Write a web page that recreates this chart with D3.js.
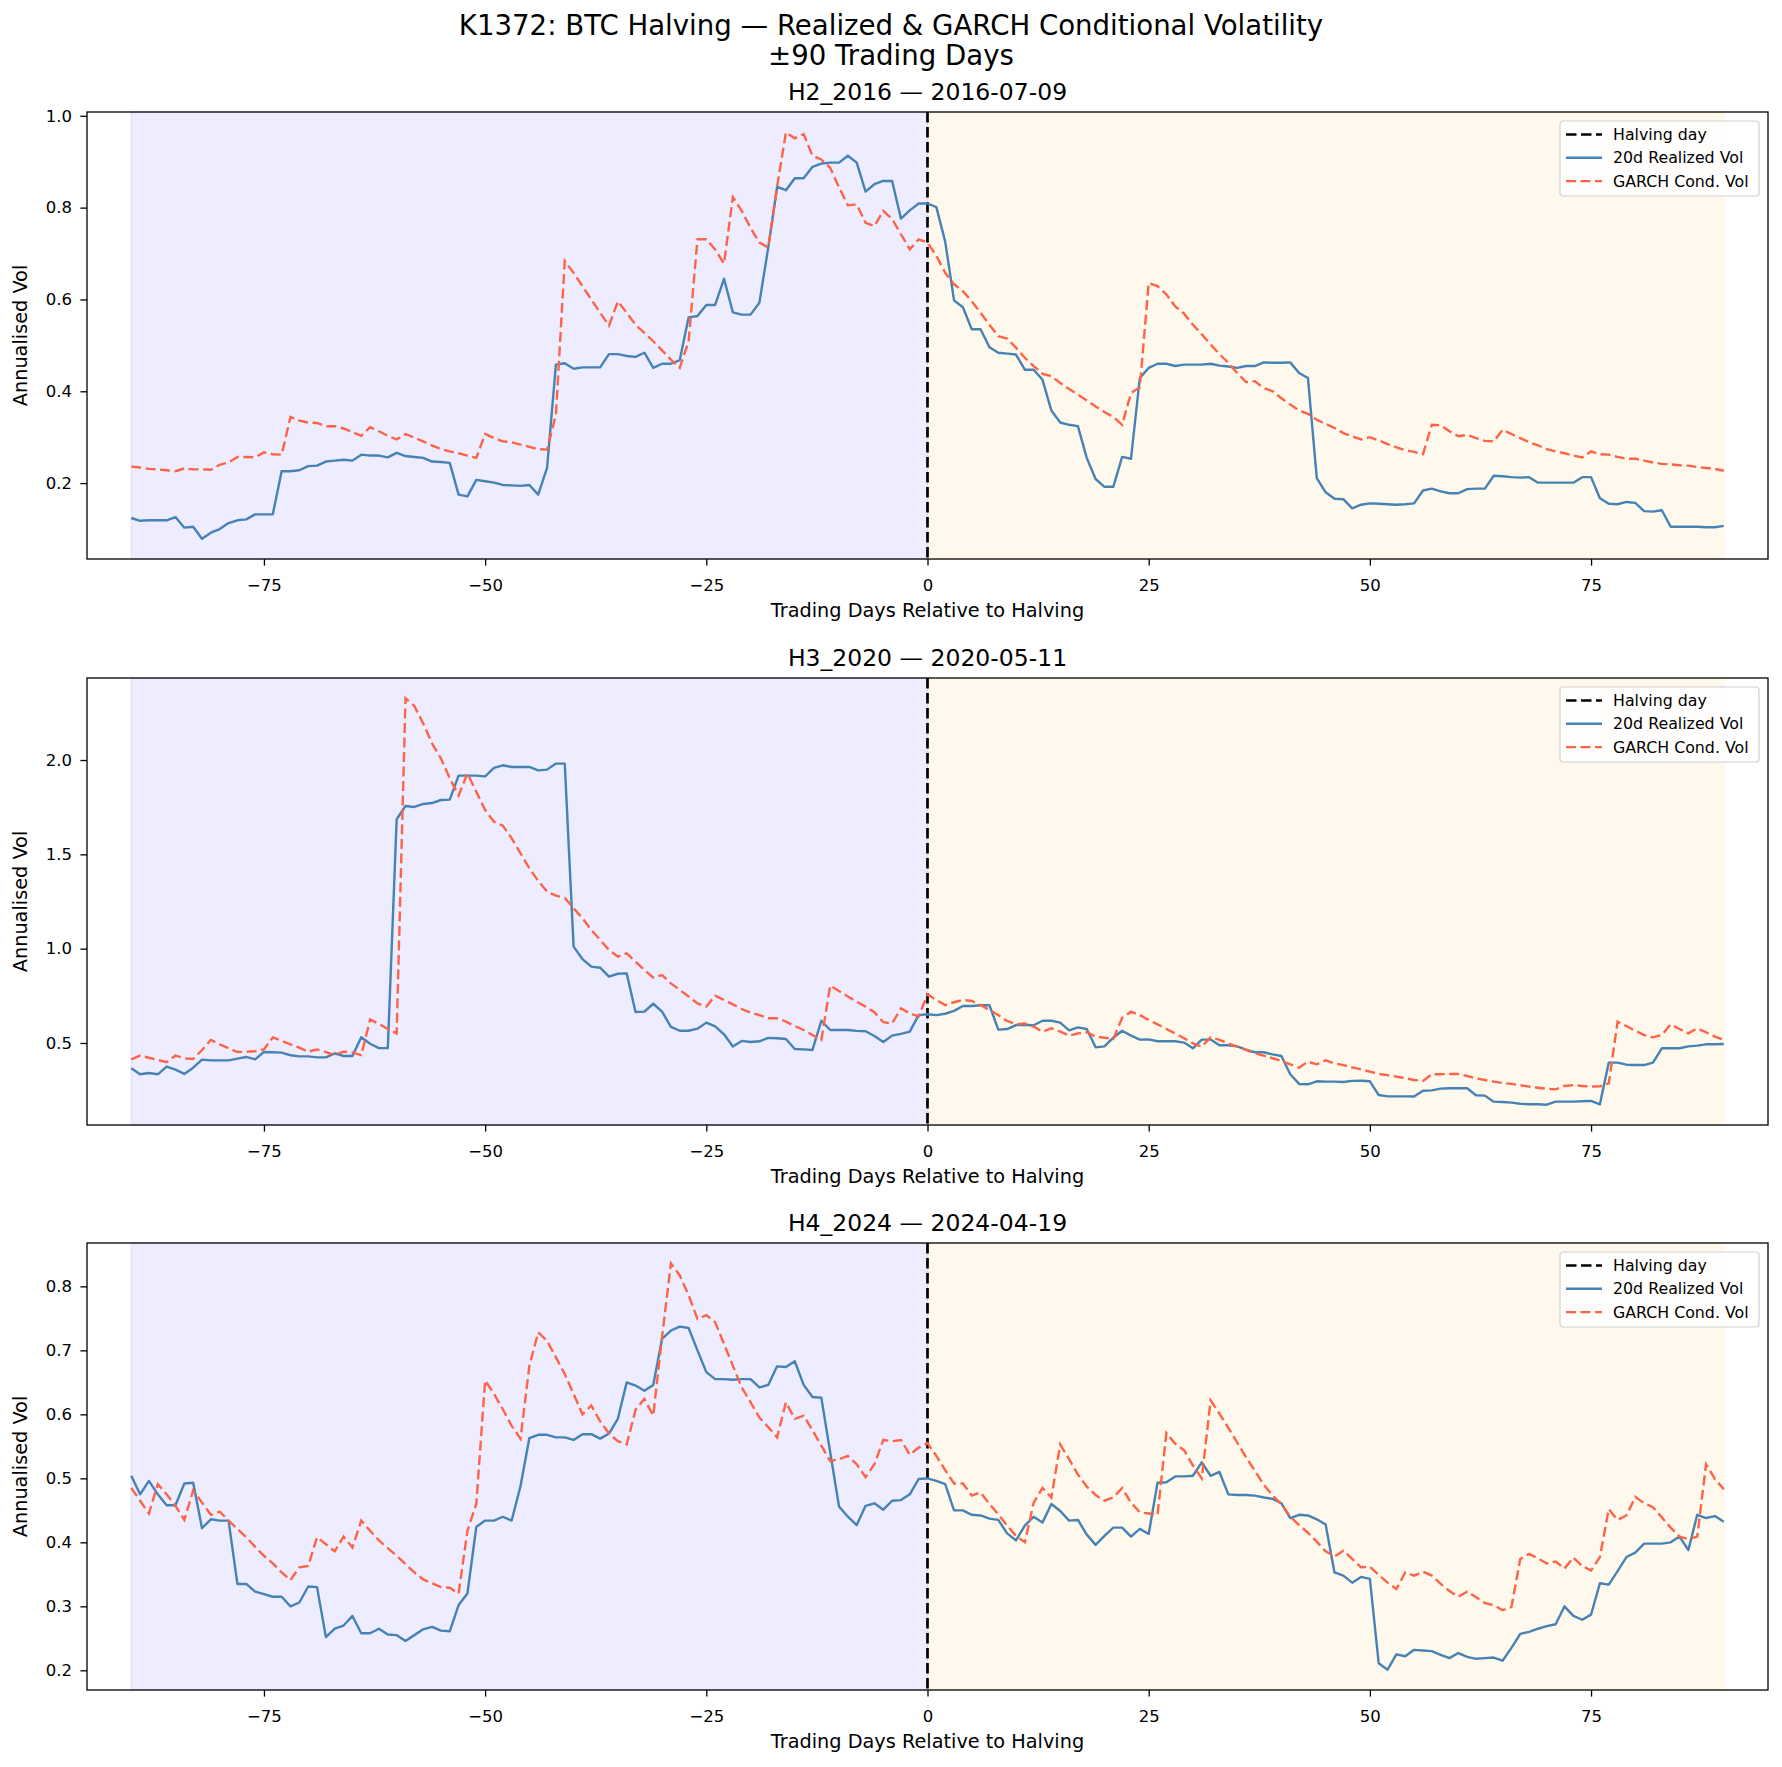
<!DOCTYPE html>
<html>
<head>
<meta charset="utf-8">
<title>K1372 BTC Halving Volatility</title>
<script src="https://d3js.org/d3.v7.min.js"></script>
<style>
  body { margin: 0; background: #fff; }
  svg { display: block; font-family: "DejaVu Sans", "Noto Sans", sans-serif; }
</style>
</head>
<body>
<div id="chart"></div>
<script>
// trading days relative to the halving, -90 .. +90
var days = d3.range(-90, 91);

var halvingNames = ['H2_2016', 'H3_2020', 'H4_2024'];
var halvingDates = ['2016-07-09', '2020-05-11', '2024-04-19'];

// 20d realized vol / GARCH conditional vol, one value per day
var h2Realized = [
  0.124,0.118,0.119,0.119,0.119,0.126,0.103,0.105,0.079,0.092,
  0.100,0.113,0.119,0.121,0.132,0.132,0.132,0.226,0.226,0.228,
  0.237,0.238,0.247,0.249,0.251,0.249,0.262,0.260,0.260,0.256,
  0.266,0.259,0.257,0.255,0.247,0.246,0.244,0.175,0.171,0.207,
  0.204,0.201,0.196,0.195,0.194,0.196,0.175,0.233,0.458,0.461,
  0.449,0.452,0.452,0.452,0.481,0.481,0.477,0.475,0.484,0.451,
  0.460,0.460,0.468,0.561,0.564,0.588,0.588,0.645,0.572,0.567,
  0.567,0.593,0.713,0.845,0.838,0.864,0.864,0.889,0.896,0.898,
  0.898,0.913,0.898,0.835,0.851,0.858,0.858,0.776,0.794,0.809,
  0.809,0.801,0.726,0.598,0.583,0.535,0.535,0.496,0.484,0.482,
  0.480,0.447,0.447,0.425,0.358,0.332,0.327,0.324,0.255,0.209,
  0.192,0.192,0.257,0.253,0.429,0.451,0.460,0.460,0.455,0.458,
  0.458,0.458,0.460,0.456,0.454,0.451,0.455,0.455,0.463,0.462,
  0.462,0.463,0.440,0.429,0.211,0.180,0.166,0.165,0.145,0.153,
  0.156,0.155,0.154,0.153,0.154,0.156,0.184,0.188,0.182,0.178,
  0.178,0.187,0.188,0.188,0.216,0.215,0.213,0.212,0.213,0.201,
  0.201,0.201,0.201,0.201,0.213,0.213,0.167,0.155,0.154,0.159,
  0.157,0.139,0.138,0.141,0.105,0.105,0.105,0.105,0.104,0.104,
  0.107
];
var h2Garch = [
  0.236,0.234,0.231,0.230,0.228,0.226,0.232,0.230,0.230,0.229,
  0.240,0.245,0.257,0.257,0.256,0.267,0.263,0.262,0.344,0.336,
  0.332,0.331,0.324,0.324,0.319,0.311,0.303,0.322,0.313,0.303,
  0.295,0.307,0.299,0.291,0.282,0.274,0.269,0.265,0.260,0.255,
  0.307,0.298,0.291,0.289,0.284,0.279,0.274,0.273,0.349,0.684,
  0.658,0.629,0.600,0.571,0.543,0.596,0.571,0.545,0.527,0.509,
  0.489,0.469,0.451,0.509,0.731,0.731,0.709,0.678,0.823,0.793,
  0.756,0.724,0.713,0.845,0.964,0.951,0.960,0.913,0.905,0.887,
  0.844,0.805,0.807,0.767,0.760,0.793,0.775,0.742,0.709,0.731,
  0.724,0.695,0.658,0.633,0.618,0.596,0.571,0.545,0.520,0.515,
  0.495,0.473,0.455,0.438,0.433,0.418,0.405,0.393,0.380,0.367,
  0.355,0.344,0.327,0.396,0.409,0.636,0.629,0.611,0.585,0.569,
  0.545,0.524,0.502,0.481,0.462,0.440,0.420,0.422,0.407,0.400,
  0.385,0.371,0.358,0.351,0.338,0.329,0.320,0.309,0.302,0.295,
  0.300,0.293,0.285,0.278,0.272,0.268,0.263,0.327,0.326,0.313,
  0.302,0.305,0.298,0.292,0.291,0.316,0.307,0.298,0.289,0.282,
  0.274,0.269,0.265,0.260,0.256,0.269,0.263,0.262,0.257,0.253,
  0.253,0.249,0.245,0.242,0.241,0.239,0.238,0.235,0.233,0.231,
  0.227
];
var h3Realized = [
  0.366,0.334,0.341,0.334,0.375,0.359,0.336,0.369,0.412,0.408,
  0.408,0.408,0.417,0.426,0.413,0.452,0.451,0.449,0.435,0.429,
  0.429,0.424,0.424,0.445,0.431,0.431,0.530,0.496,0.473,0.473,
  1.686,1.756,1.751,1.767,1.772,1.788,1.790,1.917,1.917,1.917,
  1.913,1.958,1.972,1.963,1.963,1.963,1.945,1.949,1.981,1.981,
  1.011,0.945,0.905,0.899,0.852,0.867,0.869,0.664,0.666,0.708,
  0.666,0.585,0.565,0.565,0.576,0.608,0.588,0.546,0.481,0.511,
  0.505,0.509,0.527,0.525,0.521,0.468,0.466,0.463,0.618,0.569,
  0.569,0.569,0.564,0.562,0.537,0.505,0.539,0.548,0.560,0.648,
  0.652,0.648,0.655,0.670,0.696,0.696,0.700,0.700,0.571,0.574,
  0.595,0.595,0.594,0.618,0.618,0.608,0.567,0.583,0.574,0.477,
  0.482,0.528,0.565,0.539,0.518,0.519,0.509,0.509,0.509,0.502,
  0.472,0.518,0.518,0.488,0.488,0.482,0.465,0.451,0.451,0.440,
  0.431,0.334,0.283,0.281,0.297,0.295,0.295,0.293,0.299,0.300,
  0.297,0.224,0.217,0.217,0.217,0.216,0.247,0.249,0.258,0.260,
  0.260,0.260,0.223,0.221,0.189,0.187,0.184,0.178,0.175,0.175,
  0.173,0.189,0.189,0.189,0.191,0.193,0.175,0.396,0.396,0.385,
  0.383,0.383,0.396,0.472,0.472,0.472,0.482,0.486,0.493,0.493,
  0.495
];
var h3Garch = [
  0.413,0.433,0.422,0.410,0.398,0.433,0.419,0.415,0.463,0.516,
  0.493,0.472,0.452,0.454,0.456,0.466,0.530,0.512,0.493,0.475,
  0.454,0.466,0.452,0.436,0.454,0.449,0.436,0.624,0.601,0.574,
  0.551,2.327,2.286,2.194,2.088,2.009,1.903,1.811,1.929,1.832,
  1.735,1.673,1.652,1.585,1.505,1.426,1.359,1.302,1.281,1.270,
  1.214,1.161,1.099,1.046,0.993,0.958,0.975,0.931,0.887,0.846,
  0.860,0.816,0.781,0.746,0.710,0.693,0.751,0.728,0.705,0.680,
  0.661,0.648,0.631,0.631,0.613,0.590,0.569,0.542,0.516,0.804,
  0.776,0.746,0.719,0.693,0.663,0.610,0.604,0.684,0.657,0.640,
  0.758,0.728,0.701,0.716,0.728,0.723,0.701,0.675,0.648,0.617,
  0.599,0.604,0.587,0.560,0.578,0.560,0.539,0.551,0.557,0.534,
  0.528,0.521,0.634,0.666,0.648,0.622,0.599,0.574,0.551,0.525,
  0.498,0.481,0.530,0.516,0.498,0.481,0.463,0.445,0.433,0.419,
  0.405,0.387,0.369,0.401,0.387,0.408,0.392,0.383,0.371,0.360,
  0.348,0.336,0.330,0.322,0.313,0.304,0.299,0.334,0.334,0.336,
  0.336,0.325,0.313,0.304,0.295,0.288,0.283,0.276,0.269,0.263,
  0.258,0.254,0.272,0.277,0.272,0.269,0.270,0.286,0.613,0.590,
  0.565,0.542,0.530,0.542,0.599,0.574,0.551,0.578,0.557,0.534,
  0.516
];
var h4Realized = [
  0.504,0.475,0.496,0.475,0.458,0.458,0.492,0.493,0.422,0.436,
  0.434,0.434,0.335,0.335,0.323,0.319,0.315,0.315,0.300,0.306,
  0.331,0.330,0.252,0.265,0.270,0.285,0.258,0.258,0.265,0.256,
  0.255,0.246,0.255,0.264,0.268,0.262,0.261,0.302,0.320,0.424,
  0.434,0.434,0.440,0.434,0.488,0.563,0.568,0.568,0.564,0.564,
  0.560,0.569,0.569,0.562,0.570,0.593,0.650,0.645,0.637,0.646,
  0.718,0.731,0.737,0.735,0.700,0.666,0.655,0.655,0.654,0.655,
  0.655,0.642,0.646,0.675,0.674,0.683,0.646,0.627,0.626,0.541,
  0.456,0.440,0.427,0.457,0.461,0.451,0.465,0.466,0.475,0.499,
  0.500,0.496,0.491,0.450,0.450,0.443,0.442,0.437,0.435,0.414,
  0.403,0.426,0.440,0.431,0.460,0.449,0.434,0.435,0.412,0.396,
  0.410,0.423,0.423,0.409,0.421,0.413,0.493,0.494,0.503,0.503,
  0.504,0.525,0.504,0.510,0.475,0.474,0.474,0.473,0.470,0.468,
  0.461,0.438,0.443,0.442,0.436,0.428,0.353,0.348,0.337,0.346,
  0.343,0.211,0.201,0.225,0.222,0.232,0.231,0.230,0.224,0.219,
  0.227,0.221,0.218,0.219,0.220,0.215,0.235,0.257,0.260,0.265,
  0.269,0.272,0.300,0.285,0.279,0.287,0.336,0.334,0.355,0.377,
  0.384,0.398,0.398,0.398,0.400,0.409,0.388,0.443,0.438,0.441,
  0.432
];
var h4Garch = [
  0.485,0.465,0.445,0.491,0.475,0.457,0.435,0.481,0.462,0.443,
  0.448,0.434,0.421,0.408,0.393,0.379,0.367,0.353,0.341,0.361,
  0.363,0.408,0.397,0.386,0.409,0.392,0.434,0.418,0.403,0.391,
  0.379,0.366,0.353,0.342,0.336,0.330,0.329,0.320,0.418,0.460,
  0.653,0.632,0.608,0.582,0.562,0.676,0.728,0.715,0.689,0.663,
  0.632,0.600,0.614,0.589,0.570,0.558,0.553,0.607,0.624,0.598,
  0.721,0.836,0.817,0.786,0.749,0.755,0.744,0.710,0.676,0.642,
  0.619,0.595,0.580,0.564,0.619,0.593,0.598,0.575,0.551,0.527,
  0.530,0.535,0.522,0.502,0.522,0.560,0.558,0.560,0.537,0.548,
  0.555,0.535,0.513,0.492,0.492,0.473,0.478,0.460,0.444,0.426,
  0.410,0.400,0.462,0.485,0.470,0.553,0.530,0.506,0.487,0.474,
  0.465,0.470,0.485,0.462,0.447,0.445,0.443,0.571,0.554,0.544,
  0.520,0.500,0.622,0.601,0.579,0.556,0.533,0.512,0.490,0.473,
  0.460,0.440,0.427,0.415,0.401,0.386,0.378,0.387,0.374,0.361,
  0.362,0.349,0.337,0.327,0.353,0.348,0.354,0.348,0.335,0.324,
  0.315,0.323,0.314,0.305,0.302,0.294,0.299,0.374,0.382,0.375,
  0.367,0.370,0.359,0.376,0.363,0.356,0.377,0.452,0.435,0.442,
  0.471,0.461,0.455,0.439,0.423,0.409,0.405,0.409,0.522,0.499,
  0.483
];

var xTicks = [-75, -50, -25, 0, 25, 50, 75];
var yTicksH2 = [0.2, 0.4, 0.6, 0.8, 1.0];
var yTicksH3 = [0.5, 1.0, 1.5, 2.0];
var yTicksH4 = [0.2, 0.3, 0.4, 0.5, 0.6, 0.7, 0.8];
var legendLabels = ['Halving day', '20d Realized Vol', 'GARCH Cond. Vol'];

var panels = [
  { name: halvingNames[0], date: halvingDates[0], realized: h2Realized, garch: h2Garch, yTicks: yTicksH2 },
  { name: halvingNames[1], date: halvingDates[1], realized: h3Realized, garch: h3Garch, yTicks: yTicksH3 },
  { name: halvingNames[2], date: halvingDates[2], realized: h4Realized, garch: h4Garch, yTicks: yTicksH4 }
];

// figure layout (pixels)
var width = 1782, height = 1767;
var axLeft = 87, axRight = 1768, axHeight = 447;
var axTops = [112, 678, 1243];
var blue = 'steelblue', red = 'tomato';
var font = '"DejaVu Sans", "Noto Sans", sans-serif';

var svg = d3.select('#chart').append('svg')
  .attr('width', width)
  .attr('height', height);

svg.append('rect').attr('width', width).attr('height', height).attr('fill', '#fff');

// suptitle (two lines)
svg.append('text')
  .attr('x', width / 2).attr('y', 35)
  .attr('text-anchor', 'middle')
  .style('font-size', '27.6px')
  .text('K1372: BTC Halving \u2014 Realized & GARCH Conditional Volatility');
svg.append('text')
  .attr('x', width / 2).attr('y', 65)
  .attr('text-anchor', 'middle')
  .style('font-size', '27.6px')
  .text('\u00b190 Trading Days');

var x = d3.scaleLinear()
  .domain([d3.min(days) - 5, d3.max(days) + 5])
  .range([axLeft, axRight]);

panels.forEach(function(p, k) {
  var top = axTops[k];
  var g = svg.append('g').attr('transform', 'translate(0,' + top + ')');

  // y domain = data extent + 5% padding (matplotlib style)
  var ext = d3.extent(p.realized.concat(p.garch));
  var pad = (ext[1] - ext[0]) * 0.05;
  var y = d3.scaleLinear()
    .domain([ext[0] - pad, ext[1] + pad])
    .range([axHeight, 0]);

  // pre / post halving shading
  g.append('rect')
    .attr('x', x(days[0])).attr('y', 0)
    .attr('width', x(0) - x(days[0])).attr('height', axHeight)
    .attr('fill', 'blue').attr('fill-opacity', 0.07)
    .attr('stroke', 'blue').attr('stroke-opacity', 0.07).attr('stroke-width', 1.5);
  g.append('rect')
    .attr('x', x(0)).attr('y', 0)
    .attr('width', x(days[days.length - 1]) - x(0)).attr('height', axHeight)
    .attr('fill', 'orange').attr('fill-opacity', 0.07)
    .attr('stroke', 'orange').attr('stroke-opacity', 0.07).attr('stroke-width', 1.5);

  // halving day line
  g.append('line')
    .attr('x1', x(0)).attr('x2', x(0))
    .attr('y1', 0).attr('y2', axHeight)
    .attr('stroke', '#000').attr('stroke-width', 2.7)
    .attr('stroke-dasharray', '10.5,4.5');

  var line = d3.line()
    .x(function(d, i) { return x(days[i]); })
    .y(function(d) { return y(d); });

  g.append('path')
    .datum(p.realized)
    .attr('fill', 'none')
    .attr('stroke', blue)
    .attr('stroke-width', 2.4)
    .attr('stroke-linejoin', 'round')
    .attr('d', line);

  g.append('path')
    .datum(p.garch)
    .attr('fill', 'none')
    .attr('stroke', red)
    .attr('stroke-width', 2.4)
    .attr('stroke-dasharray', '10,4.5')
    .attr('d', line);

  // axes
  var xAxis = g.append('g')
    .attr('transform', 'translate(0,' + axHeight + ')')
    .call(d3.axisBottom(x).tickValues(xTicks).tickSizeOuter(0).tickSize(6.6).tickPadding(14));
  var yAxis = g.append('g')
    .attr('transform', 'translate(' + axLeft + ',0)')
    .call(d3.axisLeft(y).tickValues(p.yTicks).tickFormat(d3.format('.1f')).tickSizeOuter(0).tickSize(6.6).tickPadding(8.5));

  [xAxis, yAxis].forEach(function(a) {
    a.select('.domain').remove();
    a.selectAll('.tick line').attr('stroke', '#000').attr('stroke-width', 1.3);
    a.selectAll('.tick text')
      .attr('fill', '#000')
      .style('font-size', '16.5px')
      .style('font-family', font);
  });

  // frame
  g.append('rect')
    .attr('x', axLeft).attr('y', 0)
    .attr('width', axRight - axLeft).attr('height', axHeight)
    .attr('fill', 'none').attr('stroke', '#000').attr('stroke-width', 1.3);

  // titles / labels
  g.append('text')
    .attr('x', (axLeft + axRight) / 2).attr('y', -12.5)
    .attr('text-anchor', 'middle')
    .style('font-size', '23.5px')
    .text(p.name + ' \u2014 ' + p.date);

  g.append('text')
    .attr('x', (axLeft + axRight) / 2).attr('y', axHeight + 58)
    .attr('text-anchor', 'middle')
    .style('font-size', '19.3px')
    .text('Trading Days Relative to Halving');

  g.append('text')
    .attr('transform', 'translate(27,' + axHeight / 2 + ') rotate(-90)')
    .attr('text-anchor', 'middle')
    .style('font-size', '19.3px')
    .text('Annualised Vol');

  // legend, top right
  var lg = g.append('g').attr('transform', 'translate(' + (axRight - 208) + ',9)');
  lg.append('rect')
    .attr('width', 199).attr('height', 75).attr('rx', 3)
    .attr('fill', '#fff').attr('fill-opacity', 0.8)
    .attr('stroke', '#d0d0d0').attr('stroke-width', 1.2);

  var styles = [
    { color: '#000', dash: '10.5,4.5', w: 2.7 },
    { color: blue, dash: null, w: 2.4 },
    { color: red, dash: '10,4.5', w: 2.4 }
  ];
  legendLabels.forEach(function(label, i) {
    var ly = 13.5 + i * 23.3;
    lg.append('line')
      .attr('x1', 6).attr('x2', 42)
      .attr('y1', ly).attr('y2', ly)
      .attr('stroke', styles[i].color)
      .attr('stroke-width', styles[i].w)
      .attr('stroke-dasharray', styles[i].dash);
    lg.append('text')
      .attr('x', 53).attr('y', ly)
      .attr('dy', '0.35em')
      .style('font-size', '15.8px')
      .text(label);
  });
});
</script>
</body>
</html>
